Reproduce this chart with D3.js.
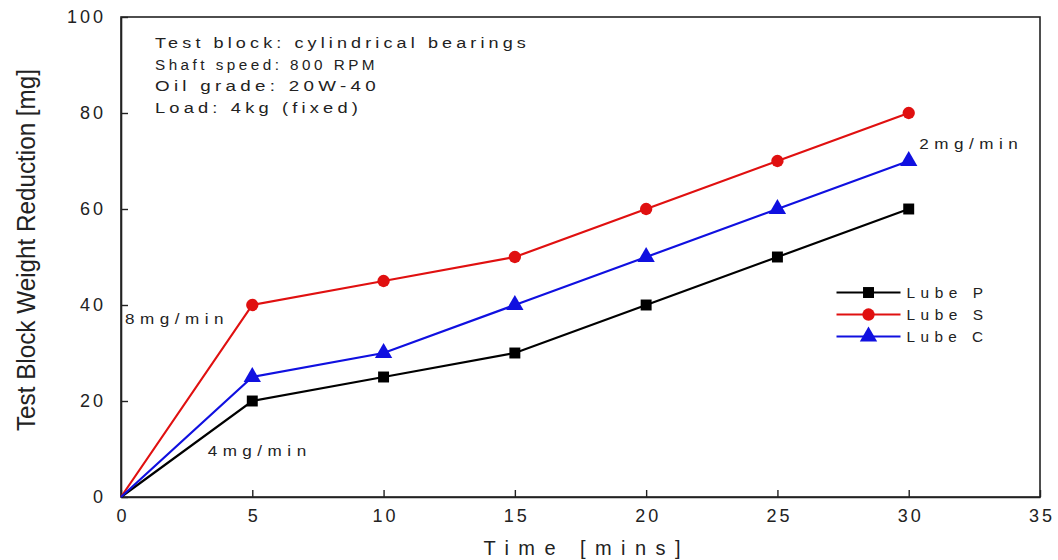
<html>
<head>
<meta charset="utf-8">
<title>lube wear</title>
<script src="https://cdnjs.cloudflare.com/ajax/libs/d3/7.8.5/d3.min.js"></script>
<style>
  body { margin: 0; background: #fff; }
  svg { display: block; }
  text { font-family: "Liberation Sans", Arial, sans-serif; fill: #222; }
</style>
</head>
<body>
<svg></svg>
<script>
// data
const times = [0, 5, 10, 15, 20, 25, 30];
const lubeP = [0, 20, 25, 30, 40, 50, 60];
const lubeS = [0, 40, 45, 50, 60, 70, 80];
const lubeC = [0, 25, 30, 40, 50, 60, 70];
const seriesNames = ['Lube P', 'Lube S', 'Lube C'];
const seriesColors = ['#000000', '#e01010', '#1010e0'];
const seriesSymbols = [d3.symbolSquare, d3.symbolCircle, d3.symbolTriangle];
const xTicks = [0, 5, 10, 15, 20, 25, 30, 35];
const yTicks = [0, 20, 40, 60, 80, 100];
const noteLines = ['Test block: cylindrical bearings', 'Shaft speed: 800 RPM', 'Oil grade: 20W-40', 'Load: 4kg (fixed)'];
const noteWidths = [375, 223, 225, 207];
const rateLabels = [
  { text: '8mg/min', x: 0.15, y: 36 },
  { text: '4mg/min', x: 3.3, y: 8.6 },
  { text: '2mg/min', x: 30.4, y: 72.6 }
];

const width = 1058, height = 560;
const margin = { top: 17, right: 18, bottom: 63, left: 121 };
const w = width - margin.left - margin.right;
const h = height - margin.top - margin.bottom;

const svg = d3.select('svg').attr('width', width).attr('height', height);
const g = svg.append('g').attr('transform', `translate(${margin.left},${margin.top})`);

const x = d3.scaleLinear().domain([0, 35]).range([0, w]);
const y = d3.scaleLinear().domain([0, 100]).range([h, 0]);

// frame
g.append('rect').attr('width', w).attr('height', h)
  .attr('fill', 'none').attr('stroke', '#222').attr('stroke-width', 1.6);

// axes, ticks inward
const xAxis = g.append('g').attr('transform', `translate(0,${h})`)
  .call(d3.axisBottom(x).tickValues(xTicks).tickSizeInner(-7).tickSizeOuter(0).tickPadding(14));
const yAxis = g.append('g')
  .call(d3.axisLeft(y).tickValues(yTicks).tickSizeInner(-7).tickSizeOuter(0).tickPadding(15));
[xAxis, yAxis].forEach(a => {
  a.select('.domain').attr('stroke', '#222').attr('stroke-width', 1.6);
  a.selectAll('.tick line').attr('stroke', '#222').attr('stroke-width', 1.4);
  a.selectAll('.tick text').attr('font-size', 18).attr('fill', '#222')
    .style('letter-spacing', '3px').attr('font-family', '"Liberation Sans", Arial, sans-serif');
});
xAxis.selectAll('.tick text').attr('dy', '0.6em').attr('dx', '1.5');

// axis titles
svg.append('text')
  .attr('transform', `translate(35,250) rotate(-90)`)
  .attr('text-anchor', 'middle').attr('font-size', 26)
  .attr('textLength', 362).attr('lengthAdjust', 'spacingAndGlyphs')
  .text('Test Block Weight Reduction   [mg]');
svg.append('text')
  .attr('x', 582).attr('y', 555).attr('text-anchor', 'middle')
  .attr('font-size', 20).attr('textLength', 197).attr('lengthAdjust', 'spacing')
  .text('Time   [mins]');

// lines and markers
const allSeries = [lubeP, lubeS, lubeC];
const line = d3.line().x((d, i) => x(times[i])).y(d => y(d));
allSeries.forEach((vals, k) => {
  g.append('path').datum(vals)
    .attr('fill', 'none').attr('stroke', seriesColors[k]).attr('stroke-width', 2.2)
    .attr('d', line);
  g.selectAll('.m' + k).data(vals.slice(1)).enter()
    .append('path').attr('class', 'm' + k)
    .attr('transform', (d, i) => `translate(${x(times[i + 1])},${y(d)})`)
    .attr('d', d3.symbol().type(seriesSymbols[k]).size(k === 2 ? 130 : 120))
    .attr('fill', seriesColors[k]);
});

// notes box text (wide, loosely spaced lettering)
noteLines.forEach((t, i) => {
  g.append('text').attr('x', 34).attr('y', 31 + i * 21.7)
    .attr('font-size', 14).attr('fill', '#111').style('letter-spacing', '3.2px')
    .attr('textLength', noteWidths[i]).attr('lengthAdjust', 'spacingAndGlyphs')
    .text(t);
});

// rate labels
rateLabels.forEach(r => {
  g.append('text').attr('x', x(r.x)).attr('y', y(r.y))
    .attr('font-size', 14).attr('fill', '#111').style('letter-spacing', '4.5px')
    .attr('textLength', 104).attr('lengthAdjust', 'spacingAndGlyphs')
    .text(r.text);
});

// legend
const legend = g.append('g').attr('transform', `translate(${x(27.25)},${y(42.6)})`);
seriesNames.forEach((name, k) => {
  const row = legend.append('g').attr('transform', `translate(0,${k * 22})`);
  row.append('line').attr('x1', 0).attr('x2', 64)
    .attr('stroke', seriesColors[k]).attr('stroke-width', 2.2);
  row.append('path').attr('transform', 'translate(32,0)')
    .attr('d', d3.symbol().type(seriesSymbols[k]).size(k === 2 ? 130 : 120))
    .attr('fill', seriesColors[k]);
  row.append('text').attr('x', 70).attr('y', 5.5)
    .attr('font-size', 14).attr('fill', '#111').style('letter-spacing', '5px')
    .attr('textLength', 82).attr('lengthAdjust', 'spacingAndGlyphs')
    .text(name);
});
</script>
</body>
</html>
